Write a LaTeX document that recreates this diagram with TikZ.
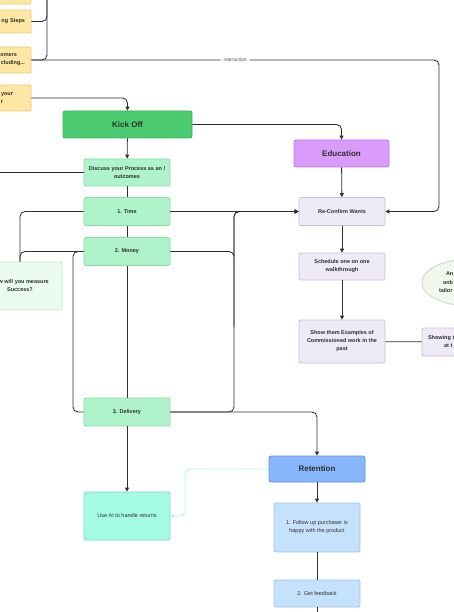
\documentclass[tikz,border=0pt]{standalone}
\usepackage{fontspec}
\setmainfont{Liberation Sans}
\usepackage{tikz}
\usetikzlibrary{arrows.meta,positioning,shapes.geometric}
\definecolor{xink}{HTML}{2E2E2E}
\definecolor{xgray}{HTML}{555555}
\definecolor{yfill}{HTML}{FFE7A3}
\definecolor{yline}{HTML}{E9C978}
\definecolor{kfill}{HTML}{4DCB71}
\definecolor{kline}{HTML}{3CAF5E}
\definecolor{mfill}{HTML}{AEF3C9}
\definecolor{mline}{HTML}{88DCA5}
\definecolor{gfill}{HTML}{EBFBF0}
\definecolor{gline}{HTML}{BFE8CB}
\definecolor{afill}{HTML}{A3FCE3}
\definecolor{aline}{HTML}{7FDCC0}
\definecolor{efill}{HTML}{D99CFB}
\definecolor{eline}{HTML}{B97BE3}
\definecolor{lfill}{HTML}{EFEAF8}
\definecolor{lline}{HTML}{C8C0DA}
\definecolor{ofill}{HTML}{F1F8EE}
\definecolor{oline}{HTML}{C7D6C0}
\definecolor{rfill}{HTML}{88B6FC}
\definecolor{rline}{HTML}{628FD8}
\definecolor{bfill}{HTML}{C5E2FC}
\definecolor{bline}{HTML}{9EC5E7}
\definecolor{xaqua}{HTML}{A8F8E0}

\begin{document}
\begin{tikzpicture}[
    x=1pt, y=-1pt,
    >={Triangle[length=4pt,width=4pt]},
    card/.style={rectangle, rounded corners=2pt, line width=0.8pt, inner sep=0pt, minimum width=86pt, minimum height=27pt, align=center, font=\fontsize{5.5}{8}\selectfont\bfseries, text=xink},
    head/.style={card, font=\fontsize{8}{10}\selectfont\bfseries},
    yel/.style={card, fill=yfill, draw=yline},
    mint/.style={card, fill=mfill, draw=mline},
    lav/.style={card, fill=lfill, draw=lline},
    sky/.style={card, fill=bfill, draw=bline, font=\fontsize{5.5}{8}\selectfont},
    link/.style={draw=xink, line width=0.85pt, rounded corners=5pt},
    lbl/.style={fill=white, font=\fontsize{5}{6}\selectfont, text=xgray, inner xsep=3pt, inner ysep=1pt},
]
\useasboundingbox (0,0) rectangle (454,612);
\clip (0,0) rectangle (454,612);
\fill[white] (0,0) rectangle (454,612);

% Planning column (cut at the left edge)
\node[yel, minimum height=26pt] (prep) at (-12,-9) {};
\node[yel, minimum height=23pt, align=right, text width=74pt] (steps) at (-12,21.5) {ng Steps};
\node[yel, minimum height=26pt, align=right, text width=74pt] (cust) at (-12,60) {omers\kern8pt\\cluding...};
\node[yel, minimum height=26pt, align=right, text width=74pt] (goal) at (-12,98) {your\kern12pt\\r\kern22pt};

% Kick off column
\node[head, fill=kfill, draw=kline, minimum width=129pt] (kick) at (127.5,124.5) {Kick Off};
\node[mint] (disc) at (127,172.5) {Discuss your Process as an /\\outcomes};
\foreach \id/\y/\txt in {time/211.5/1. Time, money/251.5/2. Money, deliv/412/3. Delivery} {
    \node[mint, minimum height=28pt] (\id) at (127,\y) {\txt};
}
\node[card, fill=gfill, draw=gline, minimum width=84pt, minimum height=48pt] (meas) at (20,286) {How will you measure\\Success?};
\node[card, fill=afill, draw=aline, minimum height=48pt, font=\fontsize{5.5}{8}\selectfont] (returns) at (127,516) {Use AI to handle returns};

% Education column
\node[head, fill=efill, draw=eline, minimum width=95pt] (edu) at (341.5,153.5) {Education};
\node[lav, minimum height=28pt] (recon) at (342,211.5) {Re-Confirm Wants};
\node[lav] (sched) at (342,266.5) {Schedule one on one\\walkthrough};
\node[lav, minimum height=43pt] (show) at (342,341.5) {Show them Examples of\\Commissioned work in the\\past};
\node[lav, minimum height=28pt, align=left, text width=74pt] (showing) at (465,342) {Showing t\\\leavevmode\kern16pt at t};
\node[ellipse, draw=oline, fill=ofill, line width=0.8pt, minimum width=96pt, minimum height=47pt, inner sep=0pt, text width=62pt, align=left, text=xink, font=\fontsize{5.5}{8.5}\selectfont\bfseries] (onboard) at (470,282.5) {\leavevmode\kern7pt An\\\leavevmode\kern4pt onb\\tailor};

% Retention column
\node[head, fill=rfill, draw=rline, minimum width=96pt, minimum height=26pt] (ret) at (317,469) {Retention};
\node[sky, minimum height=49pt] (follow) at (317,527.5) {1. Follow up purchaser is\\happy with the product};
\node[sky] (feedback) at (317,593.5) {2. Get feedback};

% Bend points
\coordinate (above) at (47,-40);
\coordinate (offleft) at (-20,172.5);
\coordinate (farright) at (439,100);
\coordinate (midleft) at (73,330);
\coordinate (midright) at (234,330);
\coordinate (aquabend) at (185,490);
\coordinate (below) at (317,640);

% Connectors
\draw[link] (steps.east) -| (above);
\draw[link] (cust.east) -| (above);
\draw[link, ->] (cust.east) -| node[pos=0.25, lbl] {interaction} (farright) |- (recon.east);
\draw[link, ->] (goal.east) -| (kick.north);
\draw[link, ->] (kick.east) -| (edu.north);
\draw[link, ->] (kick) -- (disc);
\draw[link] (offleft) -- (disc.west);
\draw[link] (disc) -- (time);
\draw[link] (time) -- (money);
\draw[link] (money) -- (deliv);
\draw[link, ->] (deliv) -- (returns);
\draw[link] (time.west) -| (meas.north);
\draw[link] (money.west) -| (meas.north);
\draw[link] (money.west) -| (midleft) |- (deliv.west);
\draw[link, ->] (time.east) -- (recon.west);
\draw[link, ->] (money.east) -| (midright) |- (recon.west);
\draw[link, ->] (deliv.east) -| (midright) |- (recon.west);
\draw[link, ->] (deliv.east) -| (ret.north);
\draw[link, ->] (edu) -- (recon);
\draw[link, ->] (recon) -- (sched);
\draw[link, ->] (sched) -- (show);
\draw[link] (show) -- (showing);
\draw[link, ->] (ret) -- (follow);
\draw[link] (follow) -- (feedback);
\draw[link] (feedback) -- (below);
\draw[link, draw=xaqua, -{Stealth[length=4pt,width=4pt]}] (ret.west) -| (aquabend) |- (returns.east);

\end{tikzpicture}
\end{document}
